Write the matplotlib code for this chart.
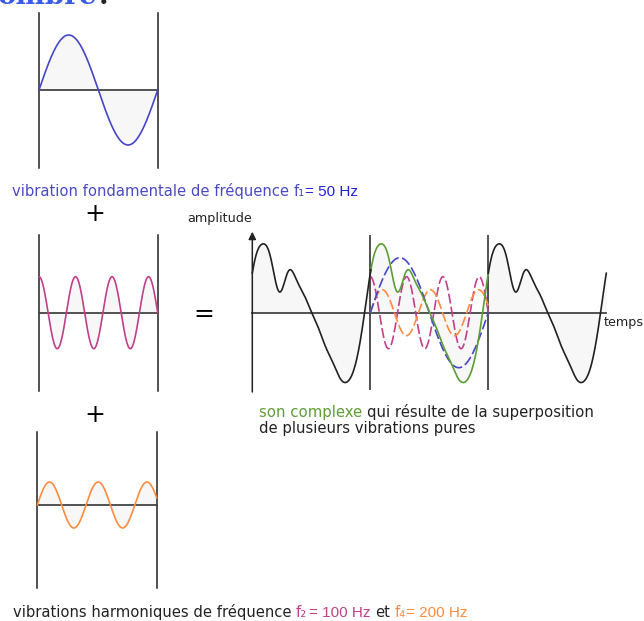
import numpy as np
import matplotlib
matplotlib.use("Agg")
import matplotlib.pyplot as plt

# figure size in pixels
W, H = 644, 621

# pure vibrations: amplitude (px), cycles across one box, phase (rad)
fund_amp, fund_cycles, fund_phase = 55, 1.0, 0.0
h2_amp, h2_cycles, h2_phase = 36, 3.25, np.pi / 2
h4_amp, h4_cycles, h4_phase = 23, 2.45, 0.0

# complex sound: harmonic content
cx_scale = 70
cx_dc = 0.023
cx_harm = [1, 2, 3, 4, 5, 6, 7, 8]
cx_amp = [0.814, 0.316, 0.172, 0.064, 0.037, 0.033, 0.022, 0.011]
cx_phase = [0.20, 1.05, 0.78, -0.45, -2.31, 2.16, 1.05, -0.77]

blue = '#4646c8'
purple = '#c23f8a'
orange = '#ff8c40'
green = '#5c9e34'
ink = '#222222'
fill = '#f7f7f7'


def pure(t, amp, cycles, phase):
    return amp * np.sin(2 * np.pi * cycles * t + phase)


def complex_wave(t):
    y = cx_dc + sum(a * np.sin(2 * np.pi * k * t + p)
                    for k, a, p in zip(cx_harm, cx_amp, cx_phase))
    return cx_scale * y


def box(x0, y0, x1, y1):
    return [x0 / W, 1 - y1 / H, (x1 - x0) / W, (y1 - y0) / H]


fig = plt.figure(figsize=(W / 100, H / 100), dpi=100)


def small_panel(rect, ylim, amp, cycles, phase, color):
    ax = fig.add_axes(box(*rect))
    ax.set_xlim(0, 1)
    ax.set_ylim(*ylim)
    ax.axis('off')
    t = np.linspace(0, 1, 400)
    y = pure(t, amp, cycles, phase)
    ax.fill_between(t, y, 0, color=fill, lw=0)
    ax.axvline(0, color=ink, lw=1.1, clip_on=False)
    ax.axvline(1, color=ink, lw=1.1, clip_on=False)
    ax.plot([0, 1], [0, 0], color='#444444', lw=1.3, clip_on=False)
    ax.plot(t, y, color=color, lw=1.2, clip_on=False)
    return ax


small_panel((39, 12.7, 157.7, 168), (-78, 77.3), fund_amp, fund_cycles, fund_phase, blue)
small_panel((39, 235, 157.7, 390.7), (-78, 77.7), h2_amp, h2_cycles, h2_phase, purple)
small_panel((37.3, 431.7, 156.7, 587.7), (-82.7, 73.3), h4_amp, h4_cycles, h4_phase, orange)

# big panel: three periods of the complex sound
ax = fig.add_axes(box(252.3, 231.7, 606.3, 392))
ax.set_xlim(0, 3)
ax.set_ylim(-79.3, 81)
ax.axis('off')

t_left = np.linspace(0, 1.005, 300)
t_mid = np.linspace(1, 2, 400)
t_right = np.linspace(2, 3.0, 300)
for tt in (t_left, t_mid, t_right):
    ax.fill_between(tt, complex_wave(tt), 0, color=fill, lw=0)

ax.vlines([1, 2], -77.3, 77.7, color=ink, lw=1.1)
ax.plot([0, 3], [0, 0], color='#444444', lw=1.3, clip_on=False)
ax.annotate('', xy=(0, 81), xytext=(0, -79.3),
            arrowprops=dict(arrowstyle='-|>', color=ink, lw=1.1,
                            mutation_scale=11, shrinkA=0, shrinkB=0),
            annotation_clip=False)

tm = t_mid - 1
dash = (6, 2)
ax.plot(t_mid, pure(tm, h2_amp, h2_cycles, h2_phase), color=purple, lw=1.2, dashes=dash)
ax.plot(t_mid, pure(tm, h4_amp, h4_cycles, h4_phase), color=orange, lw=1.2, dashes=dash)
ax.plot(t_mid, pure(tm, fund_amp, fund_cycles, fund_phase), color=blue, lw=1.2, dashes=dash)
ax.plot(t_mid, complex_wave(t_mid), color=green, lw=1.2, clip_on=False)
for tt in (t_left, t_right):
    ax.plot(tt, complex_wave(tt), color=ink, lw=1.2, clip_on=False)

ax.annotate('amplitude', xy=(0, 81), xytext=(-33, 13), textcoords='offset pixels',
            ha='center', va='center', fontsize=9.2, color=ink, annotation_clip=False)
ax.annotate('temps', xy=(3, 0), xytext=(-3, -10), textcoords='offset pixels',
            ha='left', va='center', fontsize=9.2, color=ink, annotation_clip=False)

# operators
fig.text(95 / W, 1 - 214 / H, '+', ha='center', va='center', fontsize=18, color='k')
fig.text(95 / W, 1 - 415 / H, '+', ha='center', va='center', fontsize=18, color='k')
fig.text(204 / W, 1 - 314 / H, '=', ha='center', va='center', fontsize=18, color='k')

renderer = fig.canvas.get_renderer()


def line_of(x, y, parts, weight='normal'):
    # parts: (text, colour, family, size, gap after in px)
    for text, color, family, size, gap in parts:
        tx = fig.text(x / W, 1 - y / H, text, color=color, family=family,
                      fontsize=size, ha='left', va='baseline', weight=weight)
        x += tx.get_window_extent(renderer).width + gap


fs = 10.6
sp = 4.5
line_of(12, 195.5, [
    ('vibration fondamentale de fréquence', '#4a4ac4', 'DejaVu Sans', fs, sp),
    ('f₁', '#4a4ac4', 'DejaVu Sans', fs, 0.5),
    ('= 50 Hz', '#2222dd', 'Liberation Sans', 11, 0),
])
line_of(13, 617, [
    ('vibrations harmoniques de fréquence', ink, 'DejaVu Sans', fs, sp),
    ('f₂', purple, 'DejaVu Sans', fs, 2),
    ('= 100 Hz', purple, 'Liberation Sans', 11, sp),
    ('et', ink, 'DejaVu Sans', fs, sp),
    ('f₄', orange, 'DejaVu Sans', fs, 0.5),
    ('= 200 Hz', orange, 'Liberation Sans', 11, 0),
])
line_of(259, 417, [
    ('son complexe', green, 'DejaVu Sans', 10.75, sp),
    ('qui résulte de la superposition', ink, 'DejaVu Sans', 10.75, 0),
])
line_of(259, 432.5, [
    ('de plusieurs vibrations pures', ink, 'DejaVu Sans', 10.75, 0),
])

# heading cut off at the top edge
line_of(-2, 4, [
    ('ombre', '#3a5ae8', 'DejaVu Serif', 20, 1),
    ('.', ink, 'DejaVu Serif', 20, 0),
], weight='bold')

fig.savefig('out.png', dpi=100, facecolor='white')
